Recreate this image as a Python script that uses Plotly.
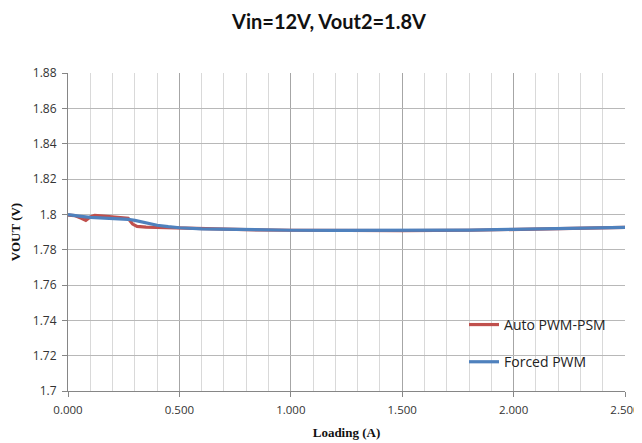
import plotly.graph_objects as go

# Data
auto_x = [0.0, 0.03, 0.06, 0.08, 0.10, 0.12, 0.16, 0.20, 0.24, 0.27, 0.29, 0.31, 0.35, 0.41, 0.5,
          0.6, 0.8, 1.0, 1.2, 1.5, 1.8, 2.0, 2.2, 2.5]
auto_y = [1.7995, 1.7993, 1.7978, 1.7966, 1.7985, 1.7994, 1.7990, 1.7985, 1.7980, 1.7977, 1.7945, 1.7932, 1.7928, 1.7926, 1.7921,
          1.7917, 1.7913, 1.7910, 1.7908, 1.7908, 1.7910, 1.7915, 1.7920, 1.7926]

forced_x = [0.0, 0.03, 0.05, 0.10, 0.15, 0.20, 0.27, 0.30, 0.35, 0.40, 0.45, 0.5,
            0.6, 0.8, 1.0, 1.2, 1.5, 1.8, 2.0, 2.2, 2.5]
forced_y = [1.7998, 1.7995, 1.7990, 1.7983, 1.7980, 1.7977, 1.7972, 1.7966, 1.7952, 1.7938, 1.7930, 1.7924,
            1.7918, 1.7913, 1.7910, 1.7909, 1.7909, 1.7911, 1.7915, 1.7920, 1.7926]

series_names = ["Auto PWM-PSM", "Forced PWM"]
y_tickvals = [1.7, 1.72, 1.74, 1.76, 1.78, 1.8, 1.82, 1.84, 1.86, 1.88]
y_ticktext = ["1.7", "1.72", "1.74", "1.76", "1.78", "1.8", "1.82", "1.84", "1.86", "1.88"]
x_tickvals = [0.0, 0.5, 1.0, 1.5, 2.0, 2.5]
x_ticktext = ["0.000", "0.500", "1.000", "1.500", "2.000", "2.500"]

fig = go.Figure()
fig.add_trace(go.Scatter(x=auto_x, y=auto_y, mode="lines", name=series_names[0],
                         line=dict(color="#C0504D", width=3.2), legendgroup="a"))
fig.add_trace(go.Scatter(x=forced_x, y=forced_y, mode="lines", name=series_names[1],
                         line=dict(color="#4F81BD", width=3.2), legendgroup="b"))

fig.update_layout(
    width=642, height=443,
    margin=dict(l=60, r=25, t=65, b=60, autoexpand=False),
    paper_bgcolor="white", plot_bgcolor="white",
    title=dict(text="<b>Vin=12V, Vout2=1.8V</b>", x=0.5, xanchor="center", y=0.968, yanchor="middle",
               font=dict(family="Lato", size=20, color="#111111")),
    showlegend=True,
    legend=dict(x=0.711, y=0.258, xanchor="left", yanchor="top", bgcolor="rgba(0,0,0,0)",
                font=dict(family="Open Sans", size=14, color="#222222"),
                tracegroupgap=16, traceorder="grouped"),
    xaxis=dict(range=[0, 2.5], tickvals=x_tickvals, ticktext=x_ticktext,
               showgrid=True, gridcolor="#A6A6A6", gridwidth=1,
               minor=dict(dtick=0.1, showgrid=True, gridcolor="#D9D9D9", gridwidth=1),
               showline=True, linecolor="#868686", linewidth=1,
               ticks="outside", ticklen=5, tickcolor="#868686", ticklabelstandoff=3,
               tickfont=dict(family="Open Sans", size=11.5, color="#333333"),
               title=dict(text="<b>Loading (A)</b>", font=dict(family="Liberation Serif", size=13, color="#111111"),
                          standoff=12),
               automargin=False, zeroline=False, fixedrange=True),
    yaxis=dict(range=[1.7, 1.88], tickvals=y_tickvals, ticktext=y_ticktext,
               showgrid=True, gridcolor="#B8B8B8", gridwidth=1,
               showline=True, linecolor="#868686", linewidth=1,
               ticks="outside", ticklen=5, tickcolor="#868686", ticklabelstandoff=3,
               tickfont=dict(family="Open Sans", size=12, color="#333333"),
               title=dict(text="<b>VOUT (V)</b>", font=dict(family="Liberation Serif", size=13, color="#111111"),
                          standoff=12),
               automargin=False, zeroline=False, fixedrange=True),
)

fig.write_html("out.html")
